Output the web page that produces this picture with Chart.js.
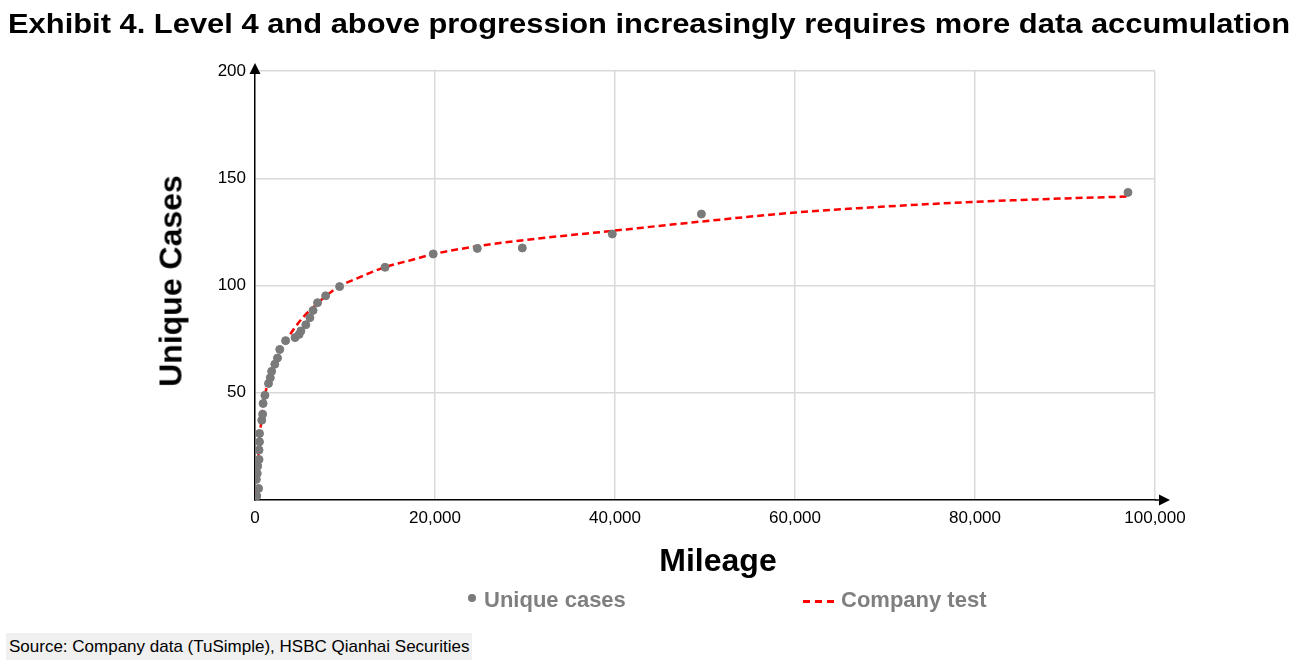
<!DOCTYPE html>
<html>
<head>
<meta charset="utf-8">
<script src="https://cdn.jsdelivr.net/npm/chart.js@4.4.0/dist/chart.umd.min.js"></script>
<style>
  body { margin: 0; background: #fff; font-family: "Liberation Sans", Arial, sans-serif; }
  #wrap { position: relative; width: 1305px; height: 670px; overflow: hidden; }
  #chart { position: absolute; left: 0; top: 0; }
  .txt { position: absolute; white-space: nowrap; }
  #title { left: 8px; top: 8px; font-size: 28px; font-weight: bold; color: #000; transform-origin: 0 50%; }
  #ytitle { left: 171px; top: 281px; font-size: 32px; font-weight: bold; transform: translate(-50%, -50%) rotate(-90deg); }
  #xtitle { left: 718px; top: 560px; font-size: 32px; font-weight: bold; transform: translate(-50%, -50%); }
  .leg { top: 587px; font-size: 22px; font-weight: bold; color: #7f7f7f; }
  #source { left: 6px; top: 633px; height: 27px; line-height: 27px; padding: 0 3px; background: #f0f0f0; font-size: 17px; color: #000; }
</style>
</head>
<body>
<div id="wrap">
  <canvas id="chart" width="1305" height="670"></canvas>
  <div class="txt" id="title">Exhibit 4. Level 4 and above progression increasingly requires more data accumulation</div>
  <div class="txt" id="ytitle">Unique Cases</div>
  <div class="txt" id="xtitle">Mileage</div>
  <div class="txt leg" style="left:468px"><span style="display:inline-block;width:8px;height:8px;border-radius:50%;background:#7a7a7a;vertical-align:middle;margin-right:8px;position:relative;top:-3px"></span>Unique cases</div>
  <div class="txt leg" style="left:803px"><span style="display:inline-block;width:34px;height:3px;vertical-align:middle;margin-right:4px;background:repeating-linear-gradient(90deg,#ff0000 0 7px,transparent 7px 12px)"></span>Company test</div>
  <div class="txt" id="source">Source: Company data (TuSimple), HSBC Qianhai Securities</div>
</div>
<script>
// unique cases observed vs. mileage
const caseMiles = [200, 400, 150, 250, 300, 450, 450, 500, 500, 750, 850, 900, 1100, 1500, 1700, 1850, 2200, 2500, 2750, 3400, 4450, 4900, 5100, 5650, 6100, 6450, 6950, 7850, 9400, 14450, 19800, 24700, 29700, 39700, 49600, 97000]
const caseCounts = [1.9, 5.4, 9.6, 12.4, 15.8, 18.9, 23.3, 27.1, 31, 37.2, 40, 45, 48.8, 54.3, 57, 60, 63.3, 66.2, 70.2, 74.3, 75.7, 77.2, 78.8, 81.7, 85, 88.4, 92, 95.2, 99.5, 108.5, 114.7, 117.3, 117.5, 124, 133.3, 143.4]

// company test curve
const testMiles = [100, 250, 350, 450, 550, 750, 950, 1150, 1500, 1900, 2300, 2800, 3500, 4200, 5300, 6300, 7850, 9400, 11200, 14400, 17500, 19900, 25000, 30000, 40000, 50000, 60000, 70000, 80000, 90000, 97200]
const testCounts = [3, 10, 18, 25, 31, 38, 45, 50, 55, 60, 64, 69, 74.4, 79, 85, 89.2, 95, 99.7, 103.1, 108.5, 112, 114.7, 118.5, 121.2, 125.6, 130, 134, 136.8, 139, 140.6, 141.5]

const xTicks = [0, 20000, 40000, 60000, 80000, 100000]
const yTicks = [0, 50, 100, 150, 200]

const casePoints = caseMiles.map((m, i) => ({ x: m, y: caseCounts[i] }))
const testPoints = testMiles.map((m, i) => ({ x: m, y: testCounts[i] }))

// the exhibit's bold face runs wider, stretch the title to its width
const title = document.getElementById('title')
title.style.transform = 'scaleX(' + (1282 / title.getBoundingClientRect().width) + ')'

// arrow heads on the axes
const arrows = {
    id: 'arrows',
    afterDraw(chart) {
        const ctx = chart.ctx
        const a = chart.chartArea
        ctx.save()
        ctx.strokeStyle = '#000'
        ctx.fillStyle = '#000'
        ctx.lineWidth = 1.5
        ctx.beginPath()
        ctx.moveTo(a.right, a.bottom)
        ctx.lineTo(a.right + 5, a.bottom)
        ctx.stroke()
        ctx.beginPath()
        ctx.moveTo(a.right + 15, a.bottom)
        ctx.lineTo(a.right + 4, a.bottom - 5.5)
        ctx.lineTo(a.right + 4, a.bottom + 5.5)
        ctx.closePath()
        ctx.fill()
        ctx.beginPath()
        ctx.moveTo(a.left, a.top - 8)
        ctx.lineTo(a.left - 5.5, a.top + 3)
        ctx.lineTo(a.left + 5.5, a.top + 3)
        ctx.closePath()
        ctx.fill()
        ctx.restore()
    }
}

new Chart(document.getElementById('chart'), {
    type: 'scatter',
    data: {
        datasets: [{
            label: 'Unique cases',
            data: casePoints,
            backgroundColor: '#7a7a7a',
            borderColor: '#7a7a7a',
            pointRadius: 4,
            pointHoverRadius: 4
        }, {
            type: 'line',
            label: 'Company test',
            data: testPoints,
            borderColor: '#ff0000',
            borderWidth: 2.5,
            borderDash: [7, 4],
            pointRadius: 0,
            fill: false,
            cubicInterpolationMode: 'monotone'
        }]
    },
    plugins: [arrows],
    options: {
        responsive: false,
        animation: false,
        events: [],
        layout: { padding: { top: 71, right: 150, left: 0, bottom: 0 } },
        plugins: {
            legend: { display: false },
            title: { display: false },
            tooltip: { enabled: false }
        },
        scales: {
            x: {
                type: 'linear',
                min: 0,
                max: 100000,
                afterFit: (s) => { s.height = 170 },
                afterBuildTicks: (s) => { s.ticks = xTicks.map(v => ({ value: v })) },
                border: { display: true, color: '#000', width: 1.5 },
                grid: {
                    color: (c) => c.tick && c.tick.value === 0 ? 'rgba(0,0,0,0)' : '#d9d9d9',
                    lineWidth: 1.5,
                    drawTicks: false
                },
                ticks: {
                    padding: 8,
                    color: '#000',
                    font: { family: 'Liberation Sans', size: 17 },
                    callback: (v) => v.toLocaleString('en-US')
                }
            },
            y: {
                min: 0,
                max: 200,
                afterFit: (s) => { s.width = 255 },
                afterBuildTicks: (s) => { s.ticks = yTicks.map(v => ({ value: v })) },
                border: { display: true, color: '#000', width: 1.5 },
                grid: {
                    color: (c) => c.tick && c.tick.value === 0 ? 'rgba(0,0,0,0)' : '#d9d9d9',
                    lineWidth: 1.5,
                    drawTicks: false
                },
                ticks: {
                    padding: 9,
                    color: '#000',
                    font: { family: 'Liberation Sans', size: 17 },
                    callback: (v) => v === 0 ? '' : v
                }
            }
        }
    }
})
</script>
</body>
</html>
